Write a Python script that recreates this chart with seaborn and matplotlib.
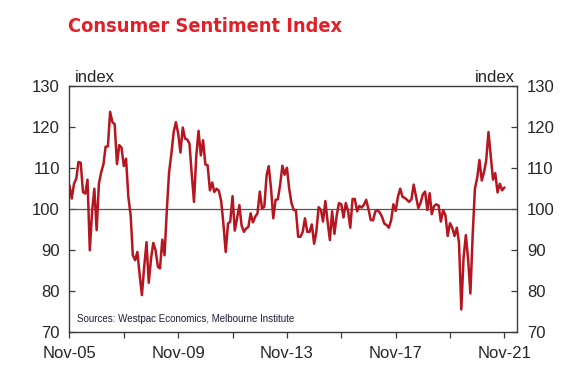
"""Westpac-MI Consumer Sentiment Index, monthly, Nov-05 to Nov-21."""

import matplotlib

matplotlib.use("Agg")

import matplotlib.dates as mdates
import matplotlib.pyplot as plt
import pandas as pd
import seaborn as sns
from matplotlib import font_manager
from matplotlib.font_manager import FontProperties


# monthly index values, starting Nov-2005
sentiment = [
    105.8, 102.6, 106.2, 107.5, 111.5, 111.3, 104.2, 103.8, 107.2, 90.0,
    99.5, 105.0, 94.9, 106.2, 109.0, 111.0, 115.2, 115.3, 123.7, 121.2,
    120.7, 111.0, 115.6, 115.0, 110.5, 112.3, 103.0, 98.5, 88.8, 87.6,
    89.6, 84.0, 79.1, 86.0, 92.0, 82.1, 88.0, 91.8, 90.0, 86.0,
    85.6, 92.6, 88.8, 99.8, 109.0, 113.5, 118.8, 121.2, 118.4, 113.8,
    119.9, 117.2, 117.0, 116.0, 108.7, 101.8, 112.8, 119.1, 113.1, 116.8,
    110.9, 110.7, 104.6, 106.5, 104.2, 105.0, 104.5, 102.0, 96.5, 89.6,
    96.5, 97.0, 103.2, 94.8, 97.8, 101.0, 96.1, 94.5, 95.3, 95.7,
    99.0, 96.8, 98.2, 99.0, 104.3, 100.2, 100.6, 108.3, 110.5, 105.1,
    97.8, 102.3, 102.4, 105.9, 110.6, 108.4, 110.1, 105.0, 101.5, 99.8,
    99.8, 93.3, 93.3, 94.5, 97.8, 94.5, 94.5, 96.3, 91.6, 94.5,
    100.5, 99.8, 97.0, 102.0, 97.0, 92.5, 99.5, 94.0, 98.5, 101.5,
    101.2, 98.0, 101.5, 99.5, 95.5, 102.5, 102.5, 99.5, 100.8, 100.4,
    101.1, 102.3, 100.0, 97.4, 97.3, 99.5, 99.8, 99.2, 98.2, 96.5,
    96.2, 95.5, 97.3, 101.2, 99.6, 103.0, 105.0, 103.0, 102.8, 102.3,
    101.8, 102.4, 106.0, 103.2, 100.3, 101.5, 103.6, 104.3, 99.8, 103.9,
    98.8, 100.8, 101.2, 100.9, 97.0, 99.8, 98.5, 93.5, 96.6, 95.5,
    93.5, 95.5, 91.9, 75.6, 88.1, 93.7, 87.9, 79.5, 93.8, 105.0,
    107.7, 112.0, 107.0, 109.1, 111.8, 118.8, 113.1, 107.2, 108.8, 104.1,
    106.2, 104.6, 105.3,
]
start_month = "2005-11-01"
y_ticks = [70, 80, 90, 100, 110, 120, 130]
label_years = [2005, 2009, 2013, 2017, 2021]
minor_years = [2007, 2011, 2015, 2019]

df = pd.DataFrame(
    {
        "month": pd.date_range(start_month, periods=len(sentiment), freq="MS"),
        "index": sentiment,
    }
)

sns.set_style("white")
fonts = font_manager.fontManager.ttflist
installed = {f.name for f in fonts}
sans = "Liberation Sans" if "Liberation Sans" in installed else "DejaVu Sans"
plt.rcParams["font.family"] = [sans, "DejaVu Sans"]


def _title_font():
    # the original uses a heavy condensed face; take one if there is any
    for f in fonts:
        tag = (f.name + " " + f.fname).lower()
        narrow = "condensed" in tag or "narrow" in tag or f.stretch == "condensed"
        heavy = f.weight in ("bold", 700, 800, 900) or "bold" in tag
        if narrow and heavy and "italic" not in tag and "oblique" not in tag:
            return FontProperties(fname=f.fname)
    return FontProperties(family=sans, weight="bold")


RED = "#B5161F"
GREY = "#3a3a3a"

fig = plt.figure(figsize=(5.82, 3.78), dpi=100)
ax = fig.add_axes([0.1194, 0.1204, 0.7690, 0.6521])

ax.axhline(100, color="#555555", lw=0.9, zorder=1)
sns.lineplot(data=df, x="month", y="index", color=RED, lw=1.8, ax=ax, zorder=2)

ax.set_ylim(70, 130)
ax.set_xlim(pd.Timestamp(start_month), pd.Timestamp("2022-04-20"))
ax.set_yticks(y_ticks)
ax.set_xticks([pd.Timestamp(f"{y}-11-01") for y in label_years])
ax.set_xticks([pd.Timestamp(f"{y}-11-01") for y in minor_years], minor=True)
ax.xaxis.set_major_formatter(mdates.DateFormatter("%b-%y"))
ax.set_xlabel("")
ax.set_ylabel("")

for side in ["left", "right", "bottom", "top"]:
    ax.spines[side].set_color(GREY)
    ax.spines[side].set_linewidth(1.0)

ax.tick_params(axis="y", which="both", direction="in", length=4, width=0.9,
               color=GREY, labelsize=12, left=True, right=True,
               labelleft=True, labelright=True, pad=7)
ax.tick_params(axis="x", which="both", direction="out", length=4, width=0.9,
               color=GREY, labelsize=12, bottom=True, pad=6)

ax.text(0.012, 1.005, "index", transform=ax.transAxes, fontsize=12,
        ha="left", va="bottom")
ax.text(0.995, 1.005, "index", transform=ax.transAxes, fontsize=12,
        ha="right", va="bottom")
ax.text(0.017, 0.035, "Sources: Westpac Economics, Melbourne Institute",
        transform=ax.transAxes, fontsize=7, color="#1c1c3c",
        ha="left", va="bottom")

title_fp = _title_font()
title_fp.set_size(19)
title = fig.text(68 / 582, 1 - 27 / 378, "Consumer Sentiment Index",
                 fontproperties=title_fp, color="#E3202A",
                 ha="left", va="center")
# shrink so the title spans about the same width as in the original
fig.canvas.draw()
width_px = title.get_window_extent().width
if width_px > 274:
    title.set_fontsize(19 * 274 / width_px)

fig.savefig("out.png", dpi=100)
plt.close(fig)
